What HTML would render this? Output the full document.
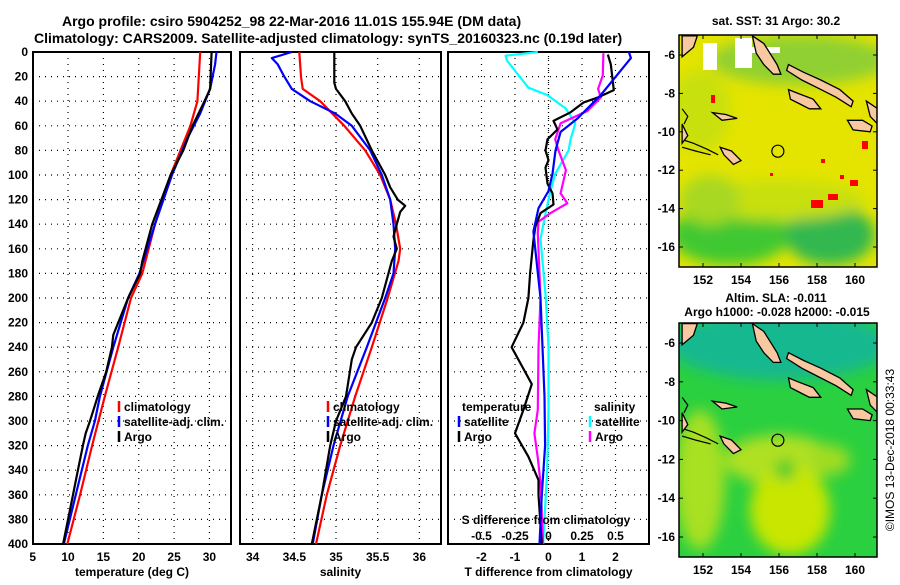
<!DOCTYPE html>
<html><head><meta charset="utf-8"><style>
body{margin:0;background:#fff;}
svg text{font-family:"Liberation Sans",sans-serif;font-weight:bold;fill:#000;}
</style></head><body>
<svg id="s" width="900" height="580" xmlns="http://www.w3.org/2000/svg">
<defs>
<filter id="blur" x="-20%" y="-20%" width="140%" height="140%"><feGaussianBlur stdDeviation="7"/></filter>
<clipPath id="c1"><rect x="679" y="35" width="198" height="232"/></clipPath>
<clipPath id="c2"><rect x="679" y="323" width="198" height="234"/></clipPath>
</defs>
<text x="62" y="26" font-size="14">Argo profile: csiro 5904252_98 22-Mar-2016 11.01S 155.94E (DM data)</text>
<text x="34" y="43" font-size="14">Climatology: CARS2009. Satellite-adjusted climatology: synTS_20160323.nc (0.19d later)</text>
<g id="g"></g>
<text x="776" y="25" font-size="12" text-anchor="middle">sat. SST: 31 Argo: 30.2</text>
<text x="776" y="302" font-size="12" text-anchor="middle">Altim. SLA: -0.011</text>
<text x="777" y="316" font-size="12" text-anchor="middle">Argo h1000: -0.028 h2000: -0.015</text>
<text transform="translate(894,450) rotate(-90)" font-size="12" text-anchor="middle" style="font-weight:normal">©IMOS 13-Dec-2018 00:33:43</text>
</svg>
<script>
// ---- data ----
const depthTclim=[0,40,60,80,100,140,180,200,240,280,320,360,400];
const tClim=[28.7,28.3,27.3,25.9,24.5,22.3,20.5,18.9,17.1,15.2,13.4,11.7,9.9];
const depthTsat=[0,10,30,50,70,100,140,180,200,240,280,300,320,360,400];
const tSat=[31.0,30.8,30.1,28.7,26.9,24.7,22.3,20.1,18.5,16.4,14.5,13.8,12.8,11.1,9.4];
const depthTargo=[0,30,40,60,80,100,140,170,180,200,230,240,260,280,300,310,320,340,360,400];
const tArgo=[30.3,30.1,29.3,27.6,26.3,24.5,21.9,20.5,20.2,18.5,16.4,16.2,15.4,14.2,13.1,12.5,12.1,11.4,10.7,9.3];
const depthSclim=[0,20,30,40,60,80,100,120,140,160,170,200,240,280,320,360,400];
const sClim=[34.56,34.58,34.6,34.81,35.1,35.35,35.53,35.65,35.72,35.77,35.75,35.62,35.43,35.23,35.05,34.89,34.76];
const depthSsat=[0,5,10,20,30,40,50,60,80,100,120,140,160,180,200,240,280,320,360,400];
const sSat=[34.47,34.23,34.3,34.38,34.47,34.69,34.99,35.19,35.41,35.55,35.65,35.69,35.71,35.69,35.59,35.37,35.14,34.97,34.83,34.72];
const depthSargo=[0,25,30,40,50,60,80,100,110,120,125,130,140,150,160,170,200,220,240,250,280,300,320,360,400];
const sArgo=[34.98,34.98,35.0,35.11,35.19,35.29,35.43,35.59,35.65,35.74,35.83,35.77,35.73,35.69,35.73,35.67,35.55,35.43,35.24,35.19,35.12,35.0,34.93,34.83,34.71];
const depthDTsat=[0,5,22,35,54,65,80,99,113,127,146,200,240,280,320,360,400];
const dTsat=[2.4,2.46,1.95,1.56,0.87,0.36,0.21,0.12,0,-0.3,-0.45,-0.24,-0.18,-0.12,-0.1,-0.2,-0.27];
const depthDTargo=[2,10,31,37,41,49,56,63,71,80,88,94,107,115,124,131,142,153,180,200,220,240,255,270,291,310,329,348,360,400];
const dTargo=[1.77,1.86,1.95,1.47,1.05,0.66,0.15,0.27,-0.03,-0.09,0,-0.09,-0.03,0.12,0.15,-0.24,-0.39,-0.45,-0.55,-0.6,-0.75,-1.1,-0.8,-0.5,-0.75,-1.0,-0.6,-0.3,-0.3,-0.2];
const depthDSsat=[0,3,7,29,35,46,58,71,80,99,113,130,152,200,240,290,340,400];
const dSsat=[-0.08,-0.32,-0.31,-0.15,-0.01,0.13,0.2,0.165,0.15,0.05,0.015,-0.02,-0.06,-0.02,0,0,-0.01,-0.04];
const depthDSargo=[1,19,30,37,48,58,71,80,96,115,123,131,138,147,200,240,291,310,330,350,400];
const dSargo=[0.41,0.405,0.37,0.39,0.29,0.09,0.05,0.075,0.13,0.09,0.14,0.015,-0.075,-0.08,-0.06,-0.075,-0.08,-0.105,-0.08,-0.06,-0.04];
const depthTicks=[0,20,40,60,80,100,120,140,160,180,200,220,240,260,280,300,320,340,360,380,400];
const tTicks=[5,10,15,20,25,30];
const sTicks=[34,34.5,35,35.5,36];
const sTickLabels=["34","34.5","35","35.5","36"];
const dtTicks=[-2,-1,0,1,2];
const dsTicks=[-0.5,-0.25,0,0.25,0.5];
const dsTickLabels=["-0.5","-0.25","0","0.25","0.5"];
const lonTicks=[152,154,156,158,160];
const latTicks=[-6,-8,-10,-12,-14,-16];

// ---- helpers ----
const NS="http://www.w3.org/2000/svg";
const G=document.getElementById('g');
function mk(tag,at,parent){const e=document.createElementNS(NS,tag);for(const k in at)e.setAttribute(k,at[k]);(parent||G).appendChild(e);return e;}
const Y0=52,Y1=544;
const yD=d=>Y0+(d/400)*(Y1-Y0);
function lin(d0,d1,r0,r1){return v=>r0+(v-d0)/(d1-d0)*(r1-r0);}
const panels=[
 {x0:33,x1:231,sc:lin(5,33.05,32.7,231),ticks:tTicks,labels:tTicks.map(String),label:"temperature (deg C)",name:"temperature-panel"},
 {x0:240,x1:441,sc:lin(33.848,36.26,240,441),ticks:sTicks,labels:sTickLabels,label:"salinity",name:"salinity-panel"},
 {x0:448,x1:649,sc:lin(-3,3,448,649),ticks:dtTicks,labels:dtTicks.map(String),label:"T difference from climatology",name:"difference-panel"}
];
const sDiff=lin(-0.75,0.75,448,649);
panels.forEach((p,i)=>{
 const grp=mk('g',{});
 
 
 const r=mk('rect',{x:p.x0,y:Y0,width:p.x1-p.x0,height:Y1-Y0,fill:'#fff',stroke:'#000','stroke-width':2},grp);
 
 
 depthTicks.forEach(d=>{if(d>0&&d<400){const l=mk('line',{x1:p.x0,x2:p.x1,y1:yD(d),y2:yD(d),stroke:'#000','stroke-width':1.2,'stroke-dasharray':'1,5'},grp);
  
  }});
 p.ticks.forEach((t,j)=>{const x=p.sc(t);
  if(x>p.x0+2&&x<p.x1-2){const l=mk('line',{x1:x,x2:x,y1:Y0,y2:Y1,stroke:'#000','stroke-width':1.2,'stroke-dasharray':'1,5'},grp);
  
  }
  const tx=mk('text',{x:x,y:561,'font-size':12,'text-anchor':'middle'},grp);tx.textContent=p.labels[j];
  
  });
 const xl=mk('text',{x:(p.x0+p.x1)/2,y:576,'font-size':12,'text-anchor':'middle'},grp);xl.textContent=p.label;
 
 
 if(i===0){depthTicks.forEach(d=>{const tx=mk('text',{x:28,y:yD(d)+4,'font-size':12,'text-anchor':'end'},grp);tx.textContent=d;
  
  });}
});
function series(depths,vals,sc,color,name){
 const pts=depths.map((d,k)=>sc(vals[k]).toFixed(1)+','+yD(d).toFixed(1)).join(' ');
 const pl=mk('polyline',{points:pts,fill:'none',stroke:color,'stroke-width':2.2,'stroke-linejoin':'round'});
 
 
}
const z=mk('line',{x1:panels[2].sc(0),x2:panels[2].sc(0),y1:Y0,y2:Y1,stroke:'#000','stroke-width':1.2,'stroke-dasharray':'1,3'});


series(depthTclim,tClim,panels[0].sc,'#ff0000','temp-climatology-line');
series(depthTsat,tSat,panels[0].sc,'#0000ff','temp-satellite-line');
series(depthTargo,tArgo,panels[0].sc,'#000','temp-argo-line');
series(depthSclim,sClim,panels[1].sc,'#ff0000','sal-climatology-line');
series(depthSsat,sSat,panels[1].sc,'#0000ff','sal-satellite-line');
series(depthSargo,sArgo,panels[1].sc,'#000','sal-argo-line');
series(depthDSsat,dSsat,sDiff,'#00ffff','sdiff-satellite-line');
series(depthDSargo,dSargo,sDiff,'#ff00ff','sdiff-argo-line');
series(depthDTargo,dTargo,panels[2].sc,'#000','tdiff-argo-line');
series(depthDTsat,dTsat,panels[2].sc,'#0000ff','tdiff-satellite-line');
const st=mk('text',{x:546,y:524,'font-size':12,'text-anchor':'middle'});st.textContent='S difference from climatology';


dsTicks.forEach((t,j)=>{const tx=mk('text',{x:sDiff(t),y:540,'font-size':12,'text-anchor':'middle'});tx.textContent=dsTickLabels[j];
 
 });
function leg(x,y,color,label,nm){const l=mk('line',{x1:x,x2:x,y1:y-10,y2:y+1,stroke:color,'stroke-width':2.5});
 
 
 const t=mk('text',{x:x+5,y:y,'font-size':12});t.textContent=label;
 
 }
[119,328].forEach(x=>{
 leg(x,411,'#ff0000','climatology','legend-climatology');
 leg(x,426,'#0000ff','satellite-adj. clim.','legend-satellite-adj');
 leg(x,441,'#000','Argo','legend-argo');});
const lt=mk('text',{x:462,y:411,'font-size':12});lt.textContent='temperature';


leg(459,426,'#0000ff','satellite','legend-temp-satellite');
leg(459,441,'#000','Argo','legend-temp-argo');
const ls=mk('text',{x:594,y:411,'font-size':12});ls.textContent='salinity';


leg(590,426,'#00ffff','satellite','legend-sal-satellite');
leg(590,441,'#ff00ff','Argo','legend-sal-argo');

// ---- maps ----
const lonX=lon=>703+(lon-152)*19;
const mapTop=[35,323];
const mapH=[232,234];
const latY=(lat,m)=> (m===0?55:343)+(-6-lat)*(m===0?19.2:19.4);
const islands=[
 [[154.6,-5.0],[155.2,-5.4],[155.9,-6.5],[156.1,-7.0],[155.7,-7.0],[155.2,-6.5],[154.8,-5.9]],
 [[156.5,-6.5],[157.3,-6.9],[158.2,-7.3],[159.2,-7.8],[159.9,-8.4],[159.8,-8.7],[159.0,-8.2],[158.0,-7.7],[157.2,-7.3],[156.4,-6.8]],
 [[156.5,-7.8],[157.0,-8.0],[157.8,-8.3],[158.2,-8.8],[157.6,-8.8],[157.0,-8.5],[156.6,-8.3]],
 [[159.6,-9.4],[160.4,-9.4],[160.9,-9.7],[160.8,-10.0],[159.9,-9.9]],
 [[160.6,-8.4],[161.2,-8.8],[161.2,-9.6],[160.8,-9.2]],
 [[150.9,-5.0],[151.7,-5.0],[151.5,-5.6],[150.9,-6.1]],
 [[152.5,-9.0],[153.2,-9.1],[153.8,-9.3],[153.0,-9.4]],
 [[152.9,-10.8],[153.5,-11.0],[154.0,-11.5],[153.6,-11.7],[153.1,-11.2]],
 [[150.9,-9.6],[151.2,-10.2],[150.9,-10.6]]
];
const coasts=[
 [[150.9,-10.4],[151.5,-10.6],[152.2,-10.9],[152.8,-11.2]],
 [[150.9,-10.8],[151.6,-11.0],[152.4,-11.2]],
 [[150.9,-8.8],[151.2,-9.2],[151.0,-9.6]]
];
function drawMap(m){
 const y0=mapTop[m],h=mapH[m];
 const grp=mk('g',{'clip-path':'url(#c'+(m+1)+')'});
 
 
 if(m===0){
  mk('rect',{x:679,y:y0,width:198,height:h,fill:'#e4e400'},grp);
  const bl=mk('g',{filter:'url(#blur)'},grp);
  [[800,60,90,25,'#90d030'],[700,110,30,40,'#c8e010'],[730,235,60,30,'#40c830'],[830,235,45,30,'#30b850'],[776,200,90,20,'#c8e010'],[710,200,30,25,'#a8d820']].forEach(e=>{
   mk('ellipse',{cx:e[0],cy:e[1],rx:e[2],ry:e[3],fill:e[4]},bl);});
  [[703,43,14,27],[735,38,17,30],[752,47,28,6]].forEach(r=>mk('rect',{x:r[0],y:r[1],width:r[2],height:r[3],fill:'#fff'},grp));
  [[811,200,12,8],[828,194,10,6],[850,180,8,6],[862,141,6,8],[840,175,4,4],[711,95,4,8],[770,173,3,3],[821,159,4,4]].forEach(r=>mk('rect',{x:r[0],y:r[1],width:r[2],height:r[3],fill:'#ff0000'},grp));
 } else {
  mk('rect',{x:679,y:y0,width:198,height:h,fill:'#2ad040'},grp);
  const bl=mk('g',{filter:'url(#blur)'},grp);
  [[780,345,110,35,'#18b890'],[700,480,25,70,'#a8e020'],[780,460,55,25,'#b0e020'],[790,510,40,45,'#c8e600'],[785,470,10,10,'#30c830'],[830,460,20,15,'#a0dc20']].forEach(e=>{
   mk('ellipse',{cx:e[0],cy:e[1],rx:e[2],ry:e[3],fill:e[4]},bl);});
 }
 coasts.forEach(cs=>{const pts=cs.map(p=>lonX(p[0]).toFixed(1)+','+latY(p[1],m).toFixed(1)).join(' ');
  const pl=mk('polyline',{points:pts,fill:'none',stroke:'#000','stroke-width':1.2},grp);
  
  });
 islands.forEach(is=>{const pts=is.map(p=>lonX(p[0]).toFixed(1)+','+latY(p[1],m).toFixed(1)).join(' ');
  const pg=mk('polygon',{points:pts,fill:'#f8c8a0',stroke:'#000','stroke-width':1.3},grp);
  
  });
 const c=mk('circle',{cx:lonX(155.94),cy:latY(-11.01,m),r:6,fill:'none',stroke:'#000','stroke-width':1.2});
 
 
 const fr=mk('rect',{x:679,y:y0,width:198,height:h,fill:'none',stroke:'#000','stroke-width':1.5});
 
 
 lonTicks.forEach(l=>{const x=lonX(l);mk('line',{x1:x,x2:x,y1:y0,y2:y0+4,stroke:'#000'});mk('line',{x1:x,x2:x,y1:y0+h,y2:y0+h-4,stroke:'#000'});
  const t=mk('text',{x:x,y:y0+h+17,'font-size':12,'text-anchor':'middle'});t.textContent=l;
  
  });
 latTicks.forEach(l=>{const y=latY(l,m);mk('line',{x1:873,x2:877,y1:y,y2:y,stroke:'#000'});mk('line',{x1:679,x2:683,y1:y,y2:y,stroke:'#000'});
  const t=mk('text',{x:675,y:y+4,'font-size':12,'text-anchor':'end'});t.textContent=l;
  
  });
}
drawMap(0);drawMap(1);
</script>
</body></html>
